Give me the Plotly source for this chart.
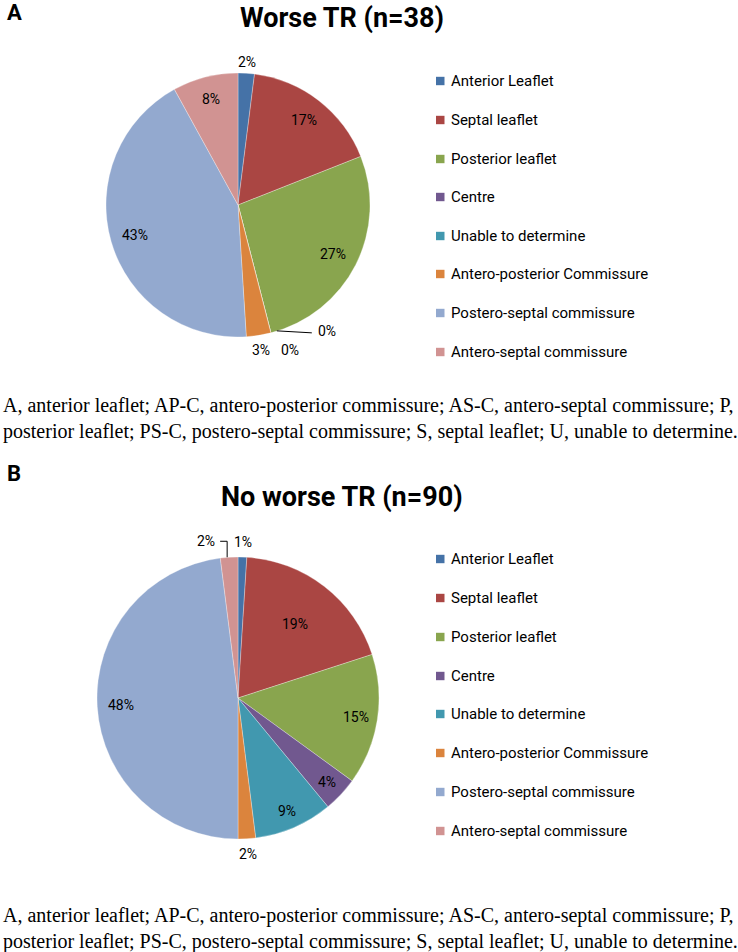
import math
import plotly.graph_objects as go

categories = ["Anterior Leaflet", "Septal leaflet", "Posterior leaflet", "Centre",
              "Unable to determine", "Antero-posterior Commissure",
              "Postero-septal commissure", "Antero-septal commissure"]
worse_values = [2, 17, 27, 0, 0, 3, 43, 8]
noworse_values = [1, 19, 15, 4, 9, 2, 48, 2]
colors = ["#4572A7", "#AA4643", "#89A54E", "#71588F", "#4198AF", "#DB843D", "#93A9CF", "#D19392"]
title_a = "Worse TR (n=38)"
title_b = "No worse TR (n=90)"
caption = ("A, anterior leaflet; AP-C, antero-posterior commissure; AS-C, antero-septal commissure; P,<br>"
           "posterior leaflet; PS-C, postero-septal commissure; S, septal leaflet; U, unable to determine.")

# figure fills the page (body margin removed by post_script)
O = 0
W, H = 738, 952
def px(x): return (x - O) / W
def py(y): return 1 - (y - O) / H

SANS = "Roboto"

fig = go.Figure()
ann, shapes = [], []

def label(x, y, text, size, bold=False, xanchor="center"):
    ann.append(dict(x=px(x), y=py(y), text=("<b>%s</b>" % text) if bold else text,
                    showarrow=False, xanchor=xanchor, yanchor="middle",
                    font=dict(family=SANS, size=size, color="black")))

def seg(x0, y0, x1, y1):
    shapes.append(dict(type="line", xref="paper", yref="paper",
                       x0=px(x0), y0=py(y0), x1=px(x1), y1=py(y1),
                       line=dict(color="black", width=1)))

# label radius factor per slice (style), None = special placement
pies = [
    dict(vals=worse_values, cx=238, cy=205, r=132,
         lab_r=[1.085, 0.815, 0.81, None, None, 1.115, 0.81, 0.83]),
    dict(vals=noworse_values, cx=238, cy=698, r=141,
         lab_r=[1.106, 0.66, 0.85, 0.87, 0.876, 1.11, 0.83, None]),
]
LS = 14
for p in pies:
    cx, cy, r = p["cx"], p["cy"], p["r"]
    fig.add_trace(go.Pie(
        labels=categories, values=p["vals"], sort=False, direction="clockwise", rotation=0,
        marker=dict(colors=colors, line=dict(color="white", width=0.3)),
        textinfo="none", domain=dict(x=[px(cx - r), px(cx + r)], y=[py(cy + r), py(cy - r)]),
        showlegend=False, hoverinfo="label+value",
    ))
    total = sum(p["vals"])
    cum = 0
    for i, v in enumerate(p["vals"]):
        mid = (cum + v / 2) / total * 2 * math.pi
        start = cum / total * 2 * math.pi
        cum += v
        f = p["lab_r"][i]
        txt = "%d%%" % v
        if f is not None:
            label(cx + f * r * math.sin(mid), cy - f * r * math.cos(mid), txt, LS)
        elif v == 0:
            ex, ey = cx + r * math.sin(start), cy - r * math.cos(start)
            if i == 3:
                seg(ex + 6, ey - 2, ex + 41, ey)
                label(ex + 45, ey - 2, txt, LS, xanchor="left")
            else:
                label(ex + 19, ey + 17, txt, LS)
        else:
            # small slice near the top with elbow leader line
            ex, ey = cx + r * math.sin(mid), cy - r * math.cos(mid)
            seg(ex - 2, ey, ex - 2, ey - 16)
            seg(ex - 2, ey - 16, ex - 9, ey - 16)
            label(ex - 12, ey - 16, txt, LS, xanchor="right")

label(342, 18, title_a, 27, bold=True)
label(342, 497, title_b, 27, bold=True)
label(5, 13, "A", 22, bold=True, xanchor="left")
label(5, 473, "B", 22, bold=True, xanchor="left")
for yc in [418, 928]:
    ann.append(dict(x=px(1), y=py(yc), text=caption, showarrow=False, xanchor="left",
                    yanchor="middle", align="left",
                    font=dict(family="Liberation Serif", size=20, color="black")))

for ys in [[81, 120, 159, 197, 236, 274, 313, 352], [559, 598, 637, 676, 714, 753, 792, 831]]:
    for lab, col, y in zip(categories, colors, ys):
        shapes.append(dict(type="rect", xref="paper", yref="paper",
                           x0=px(436), x1=px(444.5), y0=py(y + 4.2), y1=py(y - 4.2),
                           fillcolor=col, line=dict(width=0)))
        label(449, y, lab, 15, xanchor="left")

fig.update_layout(width=W, height=H, margin=dict(l=0, r=0, t=0, b=0),
                  paper_bgcolor="white", plot_bgcolor="white",
                  annotations=ann, shapes=shapes)
fig.write_html("out.html", config={"displayModeBar": False},
               post_script="document.body.style.margin='0';document.body.style.padding='0';"
                           "document.body.style.overflow='hidden';")
